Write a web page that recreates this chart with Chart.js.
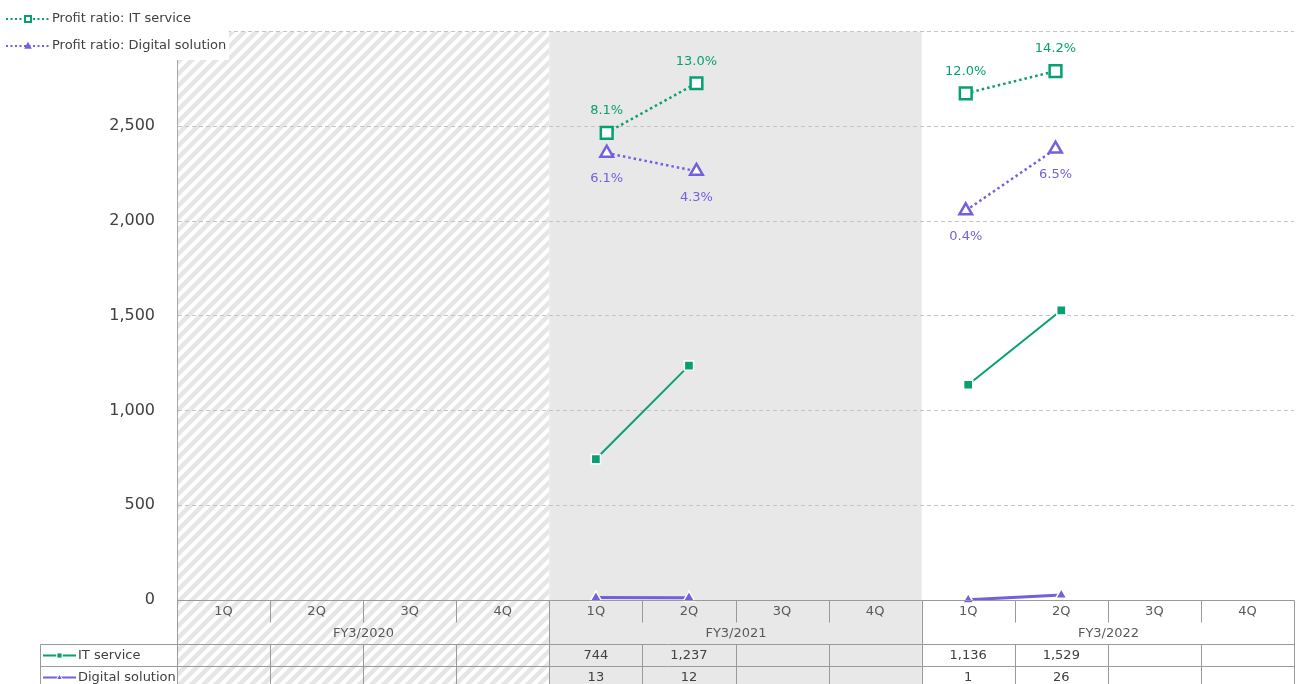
<!DOCTYPE html>
<html><head><meta charset="utf-8">
<script src="https://cdn.jsdelivr.net/npm/chart.js@4"></script>
<style>html,body{margin:0;padding:0;background:#fff;overflow:hidden}</style>
</head><body>
<canvas id="c" width="1301" height="684"></canvas>
<script>
// ---- data ----
const quarterLabels = ['1Q','2Q','3Q','4Q','1Q','2Q','3Q','4Q','1Q','2Q','3Q','4Q'];
const fiscalYears = ['FY3/2020','FY3/2021','FY3/2022'];
const itService = [null,null,null,null,744,1237,null,null,1136,1529,null,null];
const digitalSolution = [null,null,null,null,13,12,null,null,1,26,null,null];
const profitItService = [null,null,null,null,8.1,13.0,null,null,12.0,14.2,null,null];
const profitDigital = [null,null,null,null,6.1,4.3,null,null,0.4,6.5,null,null];
const seriesNames = ['IT service','Digital solution','Profit ratio: IT service','Profit ratio: Digital solution'];

const GREEN = '#07a073';
const PURPLE = '#7360e0';
const FONT = 'DejaVu Sans, Verdana, sans-serif';
const toXY = arr => arr.map((v,i)=>({x:i, y:v}));
const fmt = v => v.toLocaleString('en-US');

let hatch = null;
function getHatch(ctx){
  if (hatch) return hatch;
  const c = document.createElement('canvas'); c.width = 12; c.height = 12;
  const g = c.getContext('2d');
  g.fillStyle = '#fff'; g.fillRect(0,0,12,12);
  g.strokeStyle = '#e6e6e6'; g.lineWidth = 4.5;
  g.beginPath();
  g.moveTo(-3,15); g.lineTo(15,-3);
  g.moveTo(-9,9); g.lineTo(9,-9);
  g.moveTo(3,21); g.lineTo(21,3);
  g.stroke();
  hatch = ctx.createPattern(c,'repeat');
  return hatch;
}

function drawMarker(ctx, style, x, y, s, fill, stroke, lw){
  ctx.save();
  ctx.beginPath();
  if (style === 'rect') {
    ctx.rect(x - s/2, y - s/2, s, s);
  } else {
    ctx.moveTo(x, y - s*0.6);
    ctx.lineTo(x + s*0.55, y + s*0.4);
    ctx.lineTo(x - s*0.55, y + s*0.4);
    ctx.closePath();
  }
  ctx.fillStyle = fill; ctx.fill();
  if (lw) { ctx.lineWidth = lw; ctx.strokeStyle = stroke; ctx.stroke(); }
  ctx.restore();
}

const bgPlugin = {
  id: 'bg',
  beforeDraw(chart){
    const {ctx, chartArea: a, scales: {x}} = chart;
    const H = chart.height;
    const b = i => x.getPixelForValue(i - 0.5);
    ctx.save();
    ctx.fillStyle = getHatch(ctx);
    ctx.fillRect(b(0), a.top, b(4) - b(0), H - a.top);
    ctx.fillStyle = '#e8e8e8';
    ctx.fillRect(b(4), a.top, b(8) - b(4), H - a.top);
    ctx.restore();
  }
};

const labelPlugin = {
  id: 'labels',
  afterDatasetsDraw(chart){
    const ctx = chart.ctx;
    const cfg = [[2, GREEN, -22], [3, PURPLE, 26]];
    ctx.save();
    ctx.font = '13px ' + FONT;
    ctx.textAlign = 'center'; ctx.textBaseline = 'middle';
    cfg.forEach(([di, col, dy]) => {
      const meta = chart.getDatasetMeta(di);
      const src = di === 2 ? profitItService : profitDigital;
      meta.data.forEach((pt, i) => {
        if (src[i] === null) return;
        ctx.fillStyle = col;
        ctx.fillText(src[i].toFixed(1) + '%', pt.x, pt.y + dy);
      });
    });
    ctx.restore();
  }
};

const tablePlugin = {
  id: 'table',
  afterDraw(chart){
    const {ctx, chartArea: a, scales: {x}} = chart;
    const b = i => Math.round(x.getPixelForValue(i - 0.5)) + 0.5;
    const top = Math.round(a.bottom) + 0.5;
    const tickBottom = top + 22, fyBottom = top + 44, r1 = top + 66, r2 = top + 88;
    const tableLeft = 40.5;
    ctx.save();
    ctx.strokeStyle = '#9a9a9a'; ctx.lineWidth = 1;
    ctx.beginPath();
    ctx.moveTo(b(0), top); ctx.lineTo(b(12), top);
    [fyBottom, r1, r2].forEach(yy => { ctx.moveTo(tableLeft, yy); ctx.lineTo(b(12), yy); });
    for (let i = 0; i <= 12; i++) {
      const xx = b(i);
      if (i % 4 === 0) { ctx.moveTo(xx, top); ctx.lineTo(xx, r2); }
      else { ctx.moveTo(xx, top); ctx.lineTo(xx, tickBottom); ctx.moveTo(xx, fyBottom); ctx.lineTo(xx, r2); }
    }
    ctx.moveTo(tableLeft, fyBottom); ctx.lineTo(tableLeft, r2);
    ctx.stroke();

    ctx.font = '13px ' + FONT;
    ctx.textAlign = 'center'; ctx.textBaseline = 'middle';
    ctx.fillStyle = '#595959';
    quarterLabels.forEach((q, i) => ctx.fillText(q, x.getPixelForValue(i), top + 11));
    fiscalYears.forEach((fy, k) => ctx.fillText(fy, (b(4*k) + b(4*k+4)) / 2, top + 33));
    ctx.fillStyle = '#404040';
    itService.forEach((v, i) => { if (v !== null) ctx.fillText(fmt(v), x.getPixelForValue(i), top + 55); });
    digitalSolution.forEach((v, i) => { if (v !== null) ctx.fillText(fmt(v), x.getPixelForValue(i), top + 77); });

    // table legend keys
    const keys = [[GREEN, 'rect', seriesNames[0], top + 55], [PURPLE, 'tri', seriesNames[1], top + 77]];
    keys.forEach(([col, st, name, yy]) => {
      ctx.strokeStyle = col; ctx.lineWidth = 2;
      ctx.beginPath(); ctx.moveTo(43, yy); ctx.lineTo(76, yy); ctx.stroke();
      drawMarker(ctx, st, 59.5, yy, 5, col, '#fff', 1.5);
      drawMarker(ctx, st, 59.5, yy, 4, col, col, 0);
      ctx.fillStyle = '#404040'; ctx.textAlign = 'left';
      ctx.fillText(name, 78, yy);
    });

    // top legend (white box)
    ctx.fillStyle = '#fff';
    ctx.fillRect(0, 0, 229, 60);
    const leg = [[GREEN, 'rect', seriesNames[2], 19], [PURPLE, 'tri', seriesNames[3], 46]];
    leg.forEach(([col, st, name, yy]) => {
      ctx.save();
      ctx.strokeStyle = col; ctx.lineWidth = 2; ctx.setLineDash([2, 2.5]);
      ctx.beginPath(); ctx.moveTo(6, yy); ctx.lineTo(49, yy); ctx.stroke();
      ctx.restore();
      if (st === 'rect') drawMarker(ctx, st, 28, yy, 6, '#fff', col, 2);
      else drawMarker(ctx, st, 28, yy, 7, col, col, 0);
      ctx.fillStyle = '#404040'; ctx.textAlign = 'left';
      ctx.fillText(name, 52, yy);
    });
    ctx.restore();
  }
};

new Chart(document.getElementById('c'), {
  type: 'line',
  data: {
    datasets: [
      { label: seriesNames[0], data: toXY(itService), xAxisID: 'x', yAxisID: 'y',
        borderColor: GREEN, borderWidth: 2, pointStyle: 'rect', pointRadius: 6.5,
        pointBackgroundColor: GREEN, pointBorderColor: '#fff', pointBorderWidth: 1.5,
        spanGaps: false, clip: false, order: 2 },
      { label: seriesNames[1], data: toXY(digitalSolution), xAxisID: 'x', yAxisID: 'y',
        borderColor: PURPLE, borderWidth: 3, pointStyle: 'triangle', pointRadius: 6.5,
        pointBackgroundColor: PURPLE, pointBorderColor: '#fff', pointBorderWidth: 1.5,
        spanGaps: false, clip: false, order: 1 },
      { label: seriesNames[2], data: toXY(profitItService), xAxisID: 'x2', yAxisID: 'y2',
        borderColor: GREEN, borderWidth: 2.5, borderDash: [2.5, 3], pointStyle: 'rect', pointRadius: 8.3,
        pointBackgroundColor: '#fff', pointBorderColor: GREEN, pointBorderWidth: 2.5,
        spanGaps: false, clip: false, order: 4 },
      { label: seriesNames[3], data: toXY(profitDigital), xAxisID: 'x2', yAxisID: 'y2',
        borderColor: PURPLE, borderWidth: 2.5, borderDash: [2.5, 3], pointStyle: 'triangle', pointRadius: 7.3,
        pointBackgroundColor: '#fff', pointBorderColor: PURPLE, pointBorderWidth: 2.5,
        spanGaps: false, clip: false, order: 3 }
    ]
  },
  options: {
    responsive: false, animation: false, devicePixelRatio: 1,
    layout: { autoPadding: false, padding: { left: 0, top: 31, right: 7, bottom: 84 } },
    plugins: { legend: { display: false }, tooltip: { enabled: false } },
    scales: {
      x: { type: 'linear', display: false, min: -0.5, max: 11.5 },
      x2: { type: 'linear', display: false, min: -0.787, max: 11.657 },
      y: { position: 'left', min: 0, max: 3000,
        afterFit(s) { s.width = 177; },
        ticks: { stepSize: 500, padding: 22, color: '#404040', font: { family: FONT, size: 16 },
          callback: v => fmt(v) },
        grid: { color: '#c4c4c4', lineWidth: 1, drawTicks: false },
        border: { display: true, color: '#a6a6a6', width: 1, dash: [4, 3] } },
      y2: { position: 'right', display: false, min: -38.12, max: 18.11 }
    }
  },
  plugins: [bgPlugin, labelPlugin, tablePlugin]
});
</script>
</body></html>
